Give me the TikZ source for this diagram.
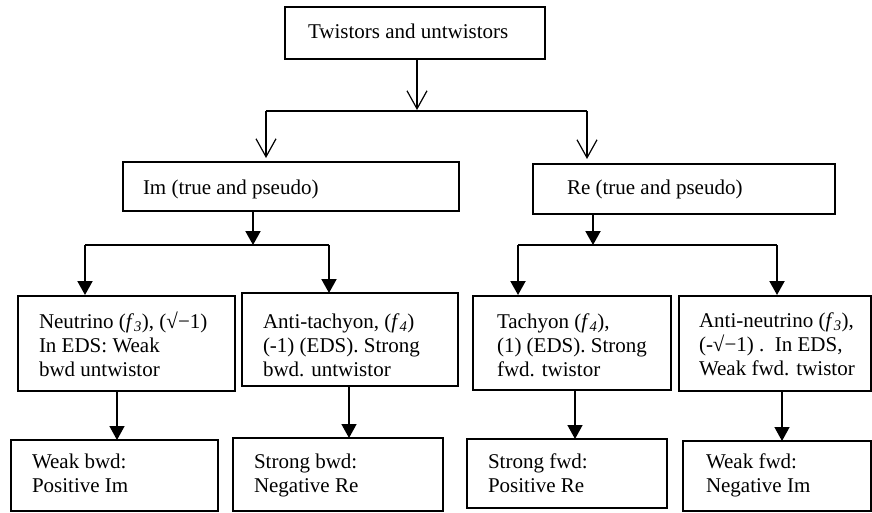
\documentclass[tikz,border=0pt]{standalone}
\usepackage{fontspec}
\setmainfont{Liberation Serif}
\usetikzlibrary{arrows.meta}
\begin{document}
\begin{tikzpicture}[x=1pt,y=-1pt,
  box/.style={draw, line width=1.8pt, inner sep=0pt, outer sep=0pt, anchor=north west},
  txt/.style={inner sep=0pt, outer sep=0pt, anchor=base west, font=\fontsize{21}{24}\selectfont},
  thinline/.style={line width=1.2pt},
  openarrow/.style={line width=1.2pt, -{Straight Barb[width=20pt,length=18pt,line width=1.2pt]}},
  midline/.style={line width=2pt},
  midarrow/.style={line width=2pt, -{Triangle[width=15pt,length=14pt]}},
  lowarrow/.style={line width=1.5pt, -{Triangle[width=15pt,length=14pt]}}]
\useasboundingbox (0,0) rectangle (872,512);
\newcommand{\fsub}[1]{\textit{f}\textsubscript{\textit{#1}}}
% boxes
\node[box, minimum width=260pt, minimum height=52pt] (top) at (285,7) {};
\node[box, minimum width=336pt, minimum height=49pt] (im) at (123,162) {};
\node[box, minimum width=302pt, minimum height=50pt] (re) at (533,164) {};
\node[box, minimum width=217pt, minimum height=95pt] (neu) at (18,296) {};
\node[box, minimum width=216pt, minimum height=93pt] (atac) at (242,293) {};
\node[box, minimum width=198pt, minimum height=94pt] (tac) at (473,296) {};
\node[box, minimum width=192pt, minimum height=95pt] (aneu) at (679,296) {};
\node[box, minimum width=207pt, minimum height=71pt] (bA) at (11,440) {};
\node[box, minimum width=210pt, minimum height=73pt] (bB) at (233,438) {};
\node[box, minimum width=200pt, minimum height=69pt] (bC) at (467,439) {};
\node[box, minimum width=188pt, minimum height=70pt] (bD) at (683,441) {};
% texts
\node[txt] (topt) at (308,38) {Twistors and untwistors};
\node[txt] (imt) at (143,194) {Im (true and pseudo)};
\node[txt] (ret) at (567,194) {Re (true and pseudo)};
\node[txt] (neut) at (39,328) {\begin{tabular}[t]{@{}l@{}}Neutrino (\fsub{3}), (√−1)\\In EDS: Weak\\bwd untwistor\end{tabular}};
\node[txt] (atact) at (263,328) {\begin{tabular}[t]{@{}l@{}}Anti-tachyon, (\fsub{4})\\(-1) (EDS). Strong\\bwd. untwistor\end{tabular}};
\node[txt] (tact) at (497,328) {\begin{tabular}[t]{@{}l@{}}Tachyon (\fsub{4}),\\(1) (EDS). Strong\\fwd. twistor\end{tabular}};
\node[txt] (aneut) at (699,327) {\begin{tabular}[t]{@{}l@{}}Anti-neutrino (\fsub{3}),\\(-√−1) .\ \ In EDS,\\Weak fwd. twistor\end{tabular}};
\node[txt] (bAt) at (32,468) {\begin{tabular}[t]{@{}l@{}}Weak bwd:\\Positive Im\end{tabular}};
\node[txt] (bBt) at (254,468) {\begin{tabular}[t]{@{}l@{}}Strong bwd:\\Negative Re\end{tabular}};
\node[txt] (bCt) at (488,468) {\begin{tabular}[t]{@{}l@{}}Strong fwd:\\Positive Re\end{tabular}};
\node[txt] (bDt) at (706,468) {\begin{tabular}[t]{@{}l@{}}Weak fwd:\\Negative Im\end{tabular}};
% junction coordinates
\coordinate (j0) at (417,110);
\coordinate (j0l) at (266,111);
\coordinate (j0r) at (587,111);
\coordinate (j1) at (253,245);
\coordinate (j1l) at (85,245);
\coordinate (j1r) at (329,245);
\coordinate (j2) at (593,245);
\coordinate (j2l) at (518,245);
\coordinate (j2r) at (777,245);
\coordinate (cA) at (117,0);
\coordinate (cB) at (349,0);
\coordinate (cC) at (575,0);
\coordinate (cD) at (782,0);
% top level
\draw[openarrow] (top.south -| j0) -- (j0);
\draw[thinline] (j0l) -- (j0r);
\draw[openarrow, shorten >=4pt] (j0l) -- (j0l |- im.north);
\draw[openarrow, shorten >=5pt] (j0r) -- (j0r |- re.north);
% Im branch
\draw[midarrow] (im.south -| j1) -- (j1);
\draw[midline] (j1l) -- (j1r);
\draw[midarrow, shorten >=1pt] (j1l) -- (j1l |- neu.north);
\draw[midarrow] (j1r) -- (j1r |- atac.north);
% Re branch
\draw[midarrow] (re.south -| j2) -- (j2);
\draw[midline] (j2l) -- (j2r);
\draw[midarrow, shorten >=1pt] (j2l) -- (j2l |- tac.north);
\draw[midarrow, shorten >=1pt] (j2r) -- (j2r |- aneu.north);
% lower arrows
\draw[lowarrow] (neu.south -| cA) -- (cA |- bA.north);
\draw[lowarrow] (atac.south -| cB) -- (cB |- bB.north);
\draw[lowarrow] (tac.south -| cC) -- (cC |- bC.north);
\draw[lowarrow] (aneu.south -| cD) -- (cD |- bD.north);
\end{tikzpicture}
\end{document}
